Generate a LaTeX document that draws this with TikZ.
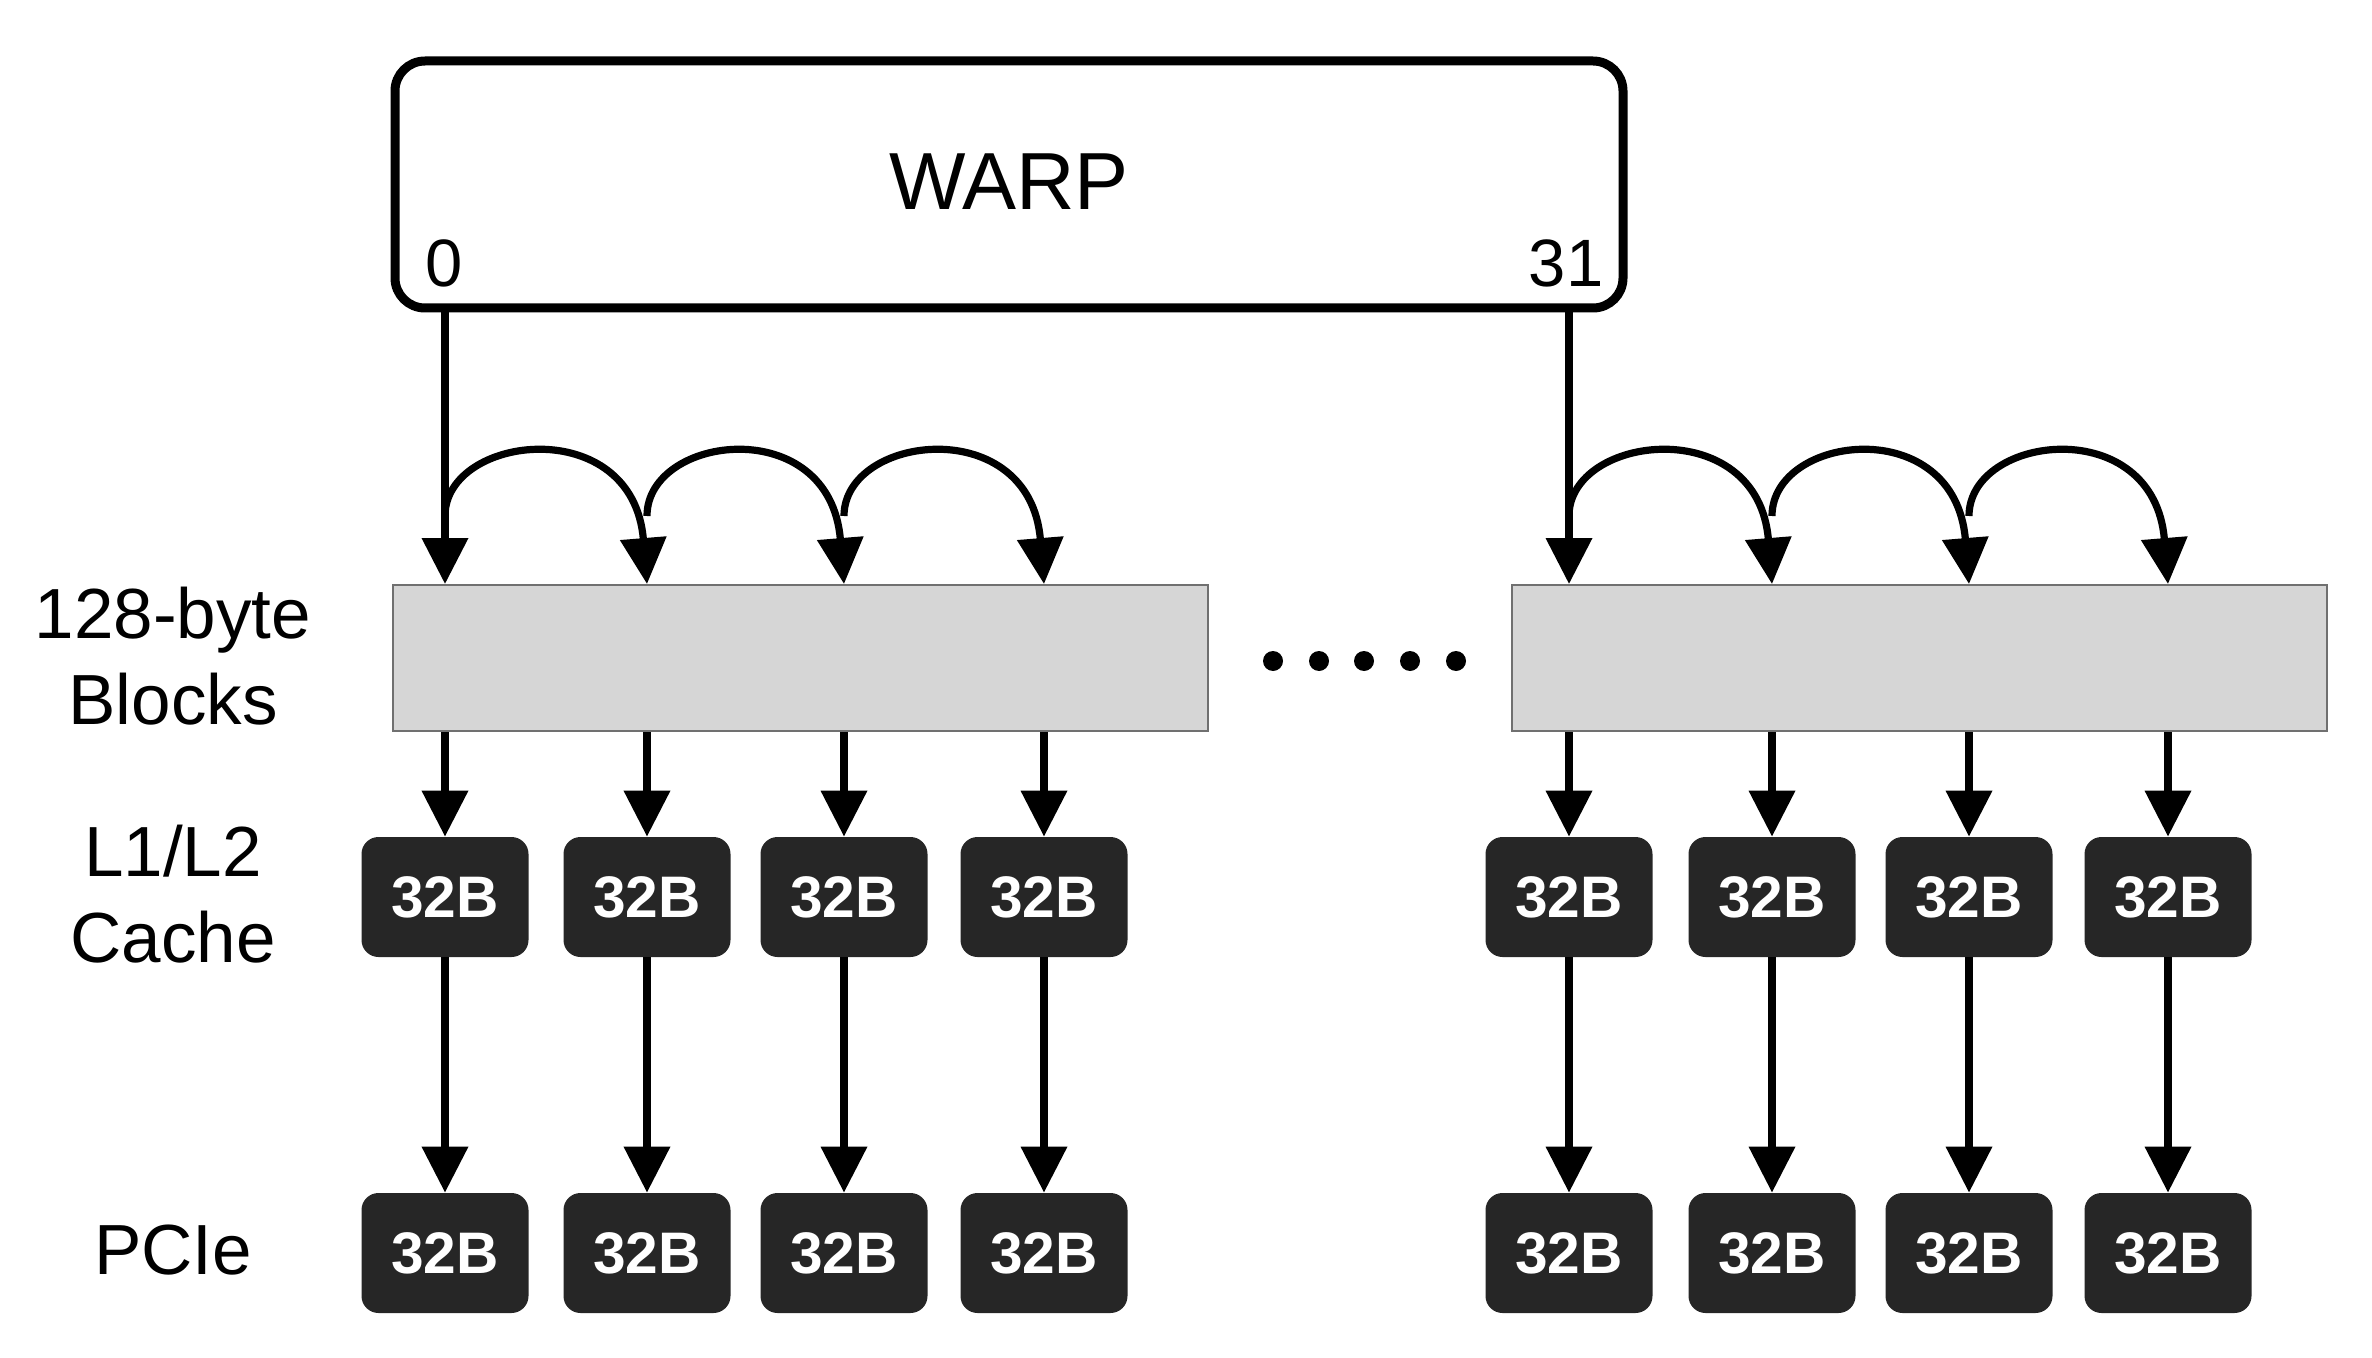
\documentclass[tikz,border=0pt]{standalone}
\usepackage{fontspec}
\setmainfont{Liberation Sans}
\usetikzlibrary{arrows.meta,calc}
\definecolor{boxdark}{HTML}{262626}
\definecolor{blockgray}{HTML}{D6D6D6}
\definecolor{blockedge}{HTML}{707070}
\begin{document}
\begin{tikzpicture}[x=0.5pt,y=-0.5pt,
  arr/.style={line width=3.6pt, -{Triangle[width=22.5pt,length=23pt]}},
  chip/.style={fill=boxdark, rounded corners=8.5pt, minimum width=83.5pt, minimum height=60pt, inner sep=0pt, text=white, font=\fontsize{29.3}{34}\selectfont\bfseries},
  block/.style={fill=blockgray, draw=blockedge, line width=1pt, minimum width=407.5pt, minimum height=73pt, inner sep=0pt},
  lbl/.style={font=\fontsize{35.5}{43}\selectfont, align=center},
  lane/.style={font=\fontsize{33.5}{40}\selectfont, inner sep=0pt},
  warpbox/.style={draw, line width=4.5pt, rounded corners=15pt, minimum width=614pt, minimum height=123.5pt, inner sep=0pt, font=\fontsize{40.5}{48}\selectfont}
]
\useasboundingbox (0,0) rectangle (2372,1358);

% WARP box
\node[warpbox] (warp) at (1009,184.5) {\raisebox{3pt}{WARP}};
\node[lane] (l0) at (444,263) {0};
\node[lane] (l31) at (1566,263) {31};

% 128-byte blocks
\node[block] (blkL) at (800.5,658) {};
\node[block] (blkR) at (1919,658) {};

% 32B chips
\foreach \i/\x in {1/445,2/647,3/844,4/1044,5/1569,6/1772,7/1969,8/2168}{
  \node[chip] (c\i) at (\x,897) {32B};
  \node[chip] (p\i) at (\x,1253) {32B};
}

% row labels
\node[lbl] (lblk) at (173,656) {128-byte\\Blocks};
\node[lbl] (lcache) at (173,894) {L1/L2\\Cache};
\node[lbl] (lpcie) at (173,1250) {PCIe};

% dots
\foreach \dx in {1273,1319,1364,1410,1456}
  \fill (\dx,661) circle[radius=5pt];

% warp to blocks
\draw[arr] (warp.south -| c1) -- (blkL.north -| c1);
\draw[arr] (warp.south -| c5) -- (blkR.north -| c5);

% arcs
\foreach \a/\b/\blk in {1/2/blkL,2/3/blkL,3/4/blkL,5/6/blkR,6/7/blkR,7/8/blkR}{
  \draw[arr] ($(\blk.north -| c\a)+(0,-68)$)
     .. controls ($(\blk.north -| c\a)+(0,-150)$) and ($(\blk.north -| c\b)+(-14,-172)$)
     .. (\blk.north -| c\b);
}

% blocks to cache
\foreach \i/\blk in {1/blkL,2/blkL,3/blkL,4/blkL,5/blkR,6/blkR,7/blkR,8/blkR}{
  \draw[arr] (\blk.south -| c\i) -- (c\i.north);
  \draw[arr] (c\i) -- (p\i);
}
\end{tikzpicture}
\end{document}
